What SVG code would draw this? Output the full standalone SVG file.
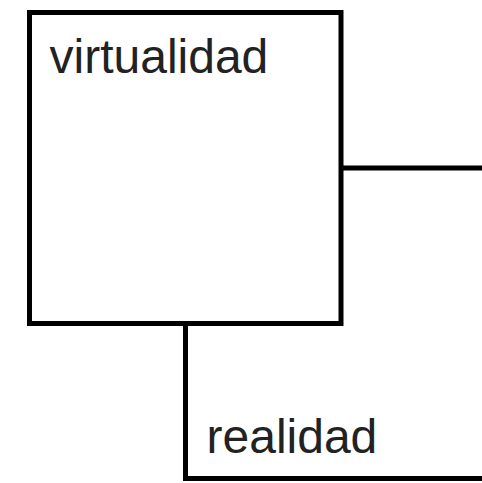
<svg xmlns="http://www.w3.org/2000/svg" width="482" height="483" viewBox="0 0 482 483">
<style>
.box{fill:#fff;stroke:#000;stroke-width:5}
.conn{fill:none;stroke:#000;stroke-width:5;stroke-linejoin:miter;stroke-linecap:butt}
.lbl{font-family:"Liberation Sans",Arial,sans-serif;font-size:48px;fill:#222}
</style>
<rect width="482" height="483" fill="#fff"/>
<g id="connectors">
<path class="conn" d="M341,168 H482"/>
<path class="conn" d="M185.5,323.5 V478.5 H482"/>
</g>
<g id="virtualidad">
<rect class="box" x="29.5" y="12.5" width="311.5" height="311"/>
<text class="lbl" x="49.5" y="72.5">virtualidad</text>
</g>
<g id="realidad">
<text class="lbl" x="206.5" y="452.5">realidad</text>
</g>
</svg>
